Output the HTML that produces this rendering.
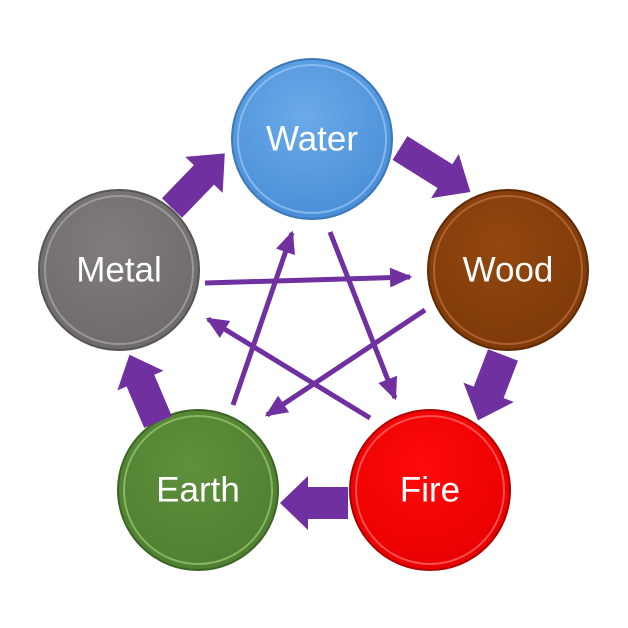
<!DOCTYPE html>
<html><head><style>
html,body{margin:0;padding:0;background:#fff;width:628px;height:628px;overflow:hidden}
text{font-family:"Liberation Sans",sans-serif;fill:#fff;font-size:35px;text-anchor:middle;dominant-baseline:central}
</style></head><body>
<svg width="628" height="628" viewBox="0 0 628 628" xmlns="http://www.w3.org/2000/svg">
<defs>
<marker id="ah" markerWidth="5" markerHeight="4" refX="4" refY="2" orient="auto" markerUnits="strokeWidth">
<path d="M0,0 L4.5,2 L0,4 Z" fill="#7030a0"/></marker>
<radialGradient id="gw" cx="45%" cy="35%" r="65%"><stop offset="0" stop-color="#6aaae8"/><stop offset="1" stop-color="#4a8fd8"/></radialGradient>
<radialGradient id="gwo" cx="45%" cy="35%" r="65%"><stop offset="0" stop-color="#94470f"/><stop offset="1" stop-color="#7e3a08"/></radialGradient>
<radialGradient id="gm" cx="45%" cy="35%" r="65%"><stop offset="0" stop-color="#807c7c"/><stop offset="1" stop-color="#6f6b6b"/></radialGradient>
<radialGradient id="ge" cx="45%" cy="35%" r="65%"><stop offset="0" stop-color="#5f903c"/><stop offset="1" stop-color="#4f7f30"/></radialGradient>
<radialGradient id="gf" cx="45%" cy="35%" r="65%"><stop offset="0" stop-color="#ff0a0a"/><stop offset="1" stop-color="#e80000"/></radialGradient>
</defs>
<g stroke-width="0">
<circle cx="312" cy="139" r="80" fill="url(#gw)" stroke="#3c78b8" stroke-width="2"/>
<circle cx="312" cy="139" r="74" fill="none" stroke="#9cc8f4" stroke-width="2" opacity=".7"/>
<circle cx="508" cy="270" r="80" fill="url(#gwo)" stroke="#5e2a05" stroke-width="2"/>
<circle cx="508" cy="270" r="74" fill="none" stroke="#c07040" stroke-width="2" opacity=".7"/>
<circle cx="119" cy="270" r="80" fill="url(#gm)" stroke="#555" stroke-width="2"/>
<circle cx="119" cy="270" r="74" fill="none" stroke="#aaa" stroke-width="2" opacity=".7"/>
<circle cx="198" cy="490" r="80" fill="url(#ge)" stroke="#3c6424" stroke-width="2"/>
<circle cx="198" cy="490" r="74" fill="none" stroke="#9ccc78" stroke-width="2" opacity=".7"/>
<circle cx="430" cy="490" r="80" fill="url(#gf)" stroke="#b00000" stroke-width="2"/>
<circle cx="430" cy="490" r="74" fill="none" stroke="#ff7070" stroke-width="2" opacity=".7"/>
</g>
<text x="312" y="139">Water</text>
<text x="508" y="270">Wood</text>
<text x="119" y="270">Metal</text>
<text x="198" y="490">Earth</text>
<text x="430" y="490">Fire</text>
<g fill="#7030a0">
<g transform="translate(172,208) rotate(-46)"><polygon points="0,-14 46,-14 46,-26 76,0 46,26 46,14 0,14"/></g>
<g transform="translate(400,148) rotate(32)"><polygon points="0,-14 53,-14 53,-26 83,0 53,26 53,14 0,14"/></g>
<g transform="translate(503,355) rotate(111)"><polygon points="0,-16 40,-16 40,-27 70,0 40,27 40,16 0,16"/></g>
<g transform="translate(348,503) rotate(180)"><polygon points="0,-16 40,-16 40,-27 68,0 40,27 40,16 0,16"/></g>
<g transform="translate(158,422) rotate(-113)"><polygon points="0,-15 45,-15 45,-25 73,0 45,25 45,15 0,15"/></g>
</g>
<g stroke="#7030a0" stroke-width="5" fill="none" marker-end="url(#ah)">
<line x1="205" y1="283" x2="410" y2="277"/>
<line x1="425" y1="310" x2="267" y2="415"/>
<line x1="233" y1="405" x2="292" y2="233"/>
<line x1="330" y1="232" x2="395" y2="398"/>
<line x1="370" y1="418" x2="208" y2="319"/>
</g>
</svg>
</body></html>
